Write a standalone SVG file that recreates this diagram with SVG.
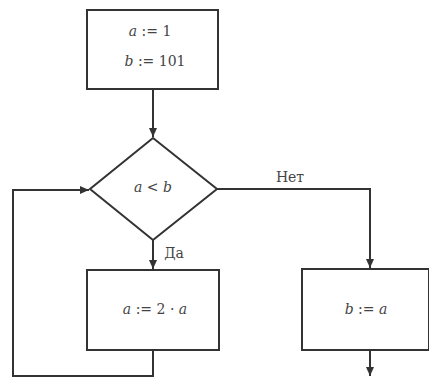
<svg xmlns="http://www.w3.org/2000/svg" width="429" height="377" viewBox="0 0 429 377">
<defs>
<style>
.s{fill:#fff;stroke:#333;stroke-width:2}
.c{fill:none;stroke:#333;stroke-width:2}
.m{font-style:italic}
</style>
<marker id="ah" markerWidth="10" markerHeight="10" refX="9" refY="5" orient="auto" markerUnits="userSpaceOnUse">
<path d="M0,1 L9,5 L0,9 z" fill="#333"/>
</marker>
</defs>
<g font-family="DejaVu Serif, serif" font-size="14" fill="#444" text-anchor="middle">
<g id="connectors">
<path class="c" d="M153,89 V137" marker-end="url(#ah)"/>
<path class="c" d="M153,240 V269" marker-end="url(#ah)"/>
<path class="c" d="M153,350 V376 H13 V190 H89" marker-end="url(#ah)"/>
<path class="c" d="M217,189 H370 V268" marker-end="url(#ah)"/>
<path class="c" d="M370,350 V376" marker-end="url(#ah)"/>
<text x="174" y="258">Да</text>
<text x="290" y="182">Нет</text>
</g>
<g id="init">
<rect class="s" x="87" y="10" width="131" height="79"/>
<text x="150" y="36"><tspan class="m">a</tspan> := 1</text>
<text x="155" y="66"><tspan class="m">b</tspan> := 101</text>
</g>
<g id="cond">
<path class="s" d="M153,138 L217,189 L153,240 L90,189 z"/>
<text x="153" y="192"><tspan class="m">a</tspan> &lt; <tspan class="m">b</tspan></text>
</g>
<g id="double">
<rect class="s" x="87" y="270" width="132" height="80"/>
<text x="155" y="314"><tspan class="m">a</tspan> := 2 · <tspan class="m">a</tspan></text>
</g>
<g id="assign">
<rect class="s" x="302" y="269" width="127" height="81"/>
<text x="366" y="314"><tspan class="m">b</tspan> := <tspan class="m">a</tspan></text>
</g>
</g>
</svg>
